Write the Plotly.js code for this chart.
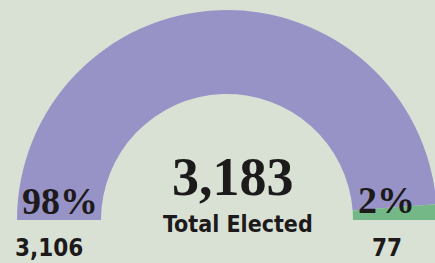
<!DOCTYPE html>
<html><head><meta charset="utf-8">
<script src="https://cdn.plot.ly/plotly-3.0.1.min.js"></script>
<style>html,body{margin:0;padding:0;overflow:hidden;background:#d9e1d5;width:435px;height:263px}#c{width:460px;height:440px}</style>
</head><body><div id="c"></div>
<script>
const categories = ["Group A", "Group B"];
const counts = [3106, 77];
const shares = ["98%", "2%"];
const countLabels = ["3,106", "77"];
const totalLabel = "3,183";
const totalCaption = "Total Elected";
const colors = ["#9893c6", "#74b888"];

const total = counts.reduce((a, b) => a + b, 0);
const W = 460, H = 440;
const px = x => x / W, py = y => 1 - y / H;

const trace = {
  type: "pie",
  values: counts.concat([total]),
  labels: categories.concat(["_blank"]),
  marker: {colors: colors.concat(["rgba(0,0,0,0)"]), line: {width: 0}},
  hole: 0.6,
  sort: false,
  direction: "clockwise",
  rotation: 270,
  textinfo: "none",
  hoverinfo: "skip",
  showlegend: false,
  domain: {x: [px(17), px(437)], y: [py(430), py(10)]}
};

const serif = "Liberation Serif, DejaVu Serif, serif";
const narrow = "DejaVu Sans Condensed, DejaVu Sans, sans-serif";
const ink = "#1c1a1a";
const ann = (text, x, y, size, family) => ({
  text: text, x: px(x), y: py(y), xref: "paper", yref: "paper",
  showarrow: false, xanchor: "center", yanchor: "middle",
  font: {size: size, family: family, color: ink, weight: 700}
});

const layout = {
  width: W, height: H,
  margin: {l: 0, r: 0, t: 0, b: 0},
  paper_bgcolor: "#d9e1d5",
  plot_bgcolor: "#d9e1d5",
  annotations: [
    ann(shares[0], 60, 201, 38, serif),
    ann(shares[1], 386, 200, 38, serif),
    ann(totalLabel, 233, 177, 54, serif),
    ann(totalCaption, 238, 224, 23, narrow),
    ann(countLabels[0], 49, 248, 24, narrow),
    ann(countLabels[1], 387, 248, 24, narrow)
  ]
};

Plotly.newPlot("c", [trace], layout, {staticPlot: true, displayModeBar: false});
</script></body></html>
